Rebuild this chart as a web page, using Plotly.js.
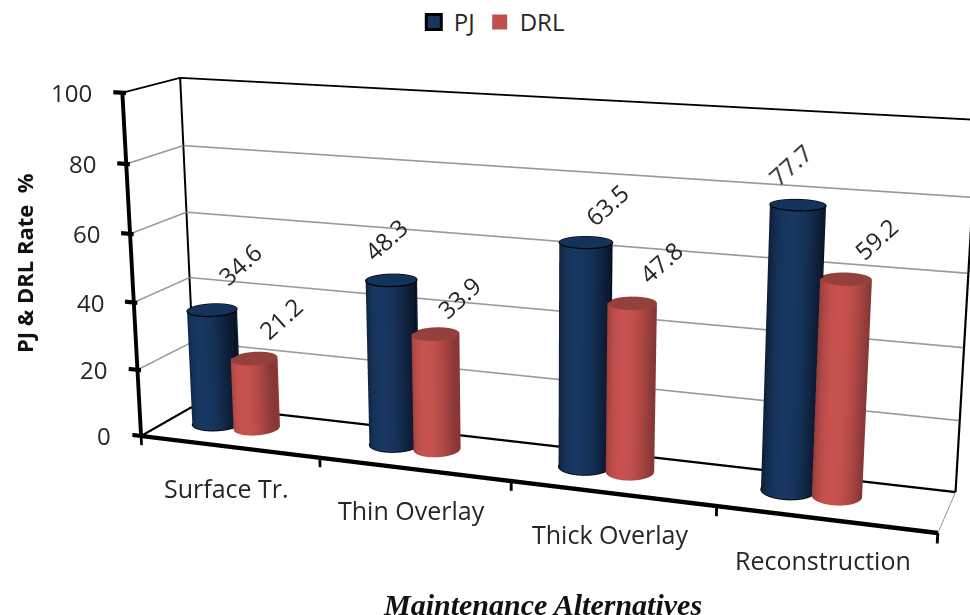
<!DOCTYPE html>
<html><head><meta charset="utf-8">
<script src="https://cdn.plot.ly/plotly-3.0.1.min.js"></script>
<style>html,body{margin:0;background:#fff}</style></head><body><div id="c" style="width:970px;height:615px"></div>
<script>
const categories=["Surface Tr.","Thin Overlay","Thick Overlay","Reconstruction"];
const pj=[34.6,48.3,63.5,77.7];
const drl=[21.2,33.9,47.8,59.2];
const zTicks=[0,20,40,60,80,100];
const pjLabelShift=[[27,46],[-6,41],[21,38],[-8,41]];
const drlLabelShift=[[26,40],[23,37],[28,41],[30,41]];

// Oblique chart box -> scene coordinates (cat: 0..4, depth: 0..1, val: 0..100)
const SHEAR={k:-.3518,m:-1.2373,n:18.2829};
function place(cat,depth,val){const a=cat/4,c=val/100;return [a+SHEAR.k*depth+SHEAR.m*c, depth+SHEAR.n*a, val];}
const XR=[-2,3],YR=[-20,21],ZR=[-20,120];
const AR={x:2.5*(XR[1]-XR[0]),y:.7757*(YR[1]-YR[0]),z:5.6805*(ZR[1]-ZR[0])/100};
const DEPTH=.57;

function polyline(segs,color,width){const x=[],y=[],z=[];
  segs.forEach(s=>{s.forEach(p=>{const q=place(...p);x.push(q[0]);y.push(q[1]);z.push(q[2]);});x.push(null);y.push(null);z.push(null);});
  return {type:'scatter3d',mode:'lines',x,y,z,line:{color,width},hoverinfo:'skip',showlegend:false};}
// GL lines stay thin: stack slightly offset copies for the heavier strokes
function heavy(segs,color,width,dc,dv,n){for(let o=-(n-1)/2;o<=(n-1)/2;o++){traces.push(polyline(segs.map(s=>s.map(p=>[p[0]+o*dc,p[1],p[2]+o*dv])),color,width));}}
function mix(a,b,t){return 'rgb('+a.map((v,i)=>Math.round(v+(b[i]-v)*t)).join(',')+')';}
function cylinder(cat,val,rx,ry,dark,light,capColor){
  const n=48,x=[],y=[],z=[],c=[],I=[],J=[],K=[];
  for(let i=0;i<n;i++){const t=i/n*2*Math.PI;
    const s=1-Math.pow(Math.abs(Math.cos(t)),2.2);
    [0,val].forEach(h=>{const q=place(cat+rx*Math.cos(t),DEPTH+ry*Math.sin(t),h);x.push(q[0]);y.push(q[1]);z.push(q[2]);c.push(mix(dark,light,s));});}
  for(let i=0;i<n;i++){const a=2*i,b=a+1,d=(a+2)%(2*n),e=(a+3)%(2*n);I.push(a,b);J.push(d,d);K.push(b,e);}
  const side={type:'mesh3d',x,y,z,i:I,j:J,k:K,vertexcolor:c,lighting:{ambient:1,diffuse:0,specular:0,fresnel:0,roughness:1},hoverinfo:'skip',showlegend:false,flatshading:true};
  const cx=[],cy=[],cz=[],ci=[],cj=[],ck=[];
  for(let i=0;i<n;i++){const t=i/n*2*Math.PI;const q=place(cat+rx*Math.cos(t),DEPTH+ry*Math.sin(t),val);cx.push(q[0]);cy.push(q[1]);cz.push(q[2]);}
  const q0=place(cat,DEPTH,val);cx.push(q0[0]);cy.push(q0[1]);cz.push(q0[2]);
  for(let i=0;i<n;i++){ci.push(i);cj.push((i+1)%n);ck.push(n);}
  const cap={type:'mesh3d',x:cx,y:cy,z:cz,i:ci,j:cj,k:ck,color:capColor,lighting:{ambient:1,diffuse:0,specular:0,fresnel:0},hoverinfo:'skip',showlegend:false};
  return [side,cap];}
function ring(cat,val,rx,ry,color,width){const s=[];for(let i=0;i<=48;i++){const t=i/48*2*Math.PI;s.push([cat+rx*Math.cos(t),DEPTH+ry*Math.sin(t),val]);}return polyline([s],color,width);}

const traces=[];
heavy(zTicks.filter(v=>v>0&&v<100).map(v=>[[0,0,v],[0,1,v],[4,1,v]]),'#9a9a9a',2,0,.18,2);
heavy([[[0,0,100],[0,1,100],[4,1,100]]],'#000',2.6,0,.14,2);
heavy([[[4,1,100],[4,1,0]],[[0,1,0],[0,1,100]]],'#000',2.6,.004,0,2);
heavy([[[0,0,0],[0,1,0],[4,1,0]]],'#000',3.2,0,.2,2);
traces.push(polyline([[[4,0,0],[4,1,0]]],'#888',1.6));
heavy([[[0,0,0],[4,0,0]]],'#000',4.6,0,.3,3);
heavy([[[0,0,100],[0,0,0]]],'#000',4.6,.0045,0,3);
heavy(zTicks.map(v=>[[-.05,0,v],[0.02,0,v]]),'#000',5,0,.25,3);
heavy([0,1,2,3,4].map(v=>[[v,0,0],[v,0,-2.8]]),'#000',4,.004,0,2);
const BLUE=[[10,24,44],[24,56,98]],RED=[[135,56,54],[200,82,79]];
categories.forEach((c,i)=>{
  const bx=i+.26,rx=.125,ry=.23;
  cylinder(bx,pj[i],rx,ry,BLUE[0],BLUE[1],'#14325a').forEach(t=>traces.push(t));
  traces.push(ring(bx,pj[i],rx,ry,'#000',2.4));
  traces.push(ring(bx,0,rx,ry,'#000',2.4));
  traces.push(polyline([[[bx-rx,DEPTH,0],[bx-rx,DEPTH,pj[i]]],[[bx+rx,DEPTH,0],[bx+rx,DEPTH,pj[i]]]],'#000',1.6));
  cylinder(i+.49,drl[i],.115,ry,RED[0],RED[1],'#96403e').forEach(t=>traces.push(t));
});
traces.push({type:'scatter3d',mode:'markers',name:'PJ',x:[null],y:[null],z:[null],marker:{symbol:'square',size:15,color:'#17375e',line:{color:'#000',width:3}},showlegend:true,hoverinfo:'skip'});
traces.push({type:'scatter3d',mode:'markers',name:'DRL',x:[null],y:[null],z:[null],marker:{symbol:'square',size:15,color:'#c0504d'},showlegend:true,hoverinfo:'skip'});

const FONT='Open Sans';const TXT='#262626';
const ann=[];
function addAnn(p,text,opt){const q=place(...p);ann.push(Object.assign({x:q[0],y:q[1],z:q[2],text,showarrow:false},opt));}
zTicks.forEach(v=>addAnn([0,0,v],String(v),{xanchor:'right',yanchor:'middle',xshift:-28,font:{family:FONT,size:24,color:TXT}}));
categories.forEach((c,i)=>addAnn([i+.5,0,0],c,{xshift:-2,yshift:-41,font:{family:FONT,size:25,color:TXT}}));
categories.forEach((c,i)=>{
  addAnn([i+.26,DEPTH,pj[i]],pj[i].toFixed(1),{textangle:-42,xshift:pjLabelShift[i][0],yshift:pjLabelShift[i][1],font:{family:FONT,size:24,color:TXT}});
  addAnn([i+.49,DEPTH,drl[i]],drl[i].toFixed(1),{textangle:-42,xshift:drlLabelShift[i][0],yshift:drlLabelShift[i][1],font:{family:FONT,size:24,color:TXT}});
});
const hid={showgrid:false,zeroline:false,showline:false,showticklabels:false,ticks:'',showspikes:false,showbackground:false,title:{text:''},autorange:false};
Plotly.newPlot('c',traces,{width:970,height:615,showlegend:true,paper_bgcolor:'#fff',
 legend:{orientation:'h',x:.507,xanchor:'center',y:1,yanchor:'top',font:{family:FONT,size:24,color:TXT}},
 margin:{l:0,r:0,t:0,b:0},hovermode:false,
 annotations:[
  {xref:'paper',yref:'paper',x:24/970,y:1-263/615,xanchor:'center',yanchor:'middle',text:'<b>PJ &amp; DRL Rate &nbsp;%</b>',textangle:-90,showarrow:false,font:{family:FONT,size:22,color:'#111'}},
  {xref:'paper',yref:'paper',x:542/970,y:1-604/615,xanchor:'center',yanchor:'middle',text:'<b><i>Maintenance Alternatives</i></b>',showarrow:false,font:{family:'Liberation Serif',size:30,color:'#111'}}],
 scene:{domain:{x:[0,1],y:[0,1]},aspectmode:'manual',aspectratio:AR,
  camera:{eye:{x:9.2744,y:6.0992,z:7.2854},center:{x:-2.3532,y:6.2649,z:-.656},up:{x:0,y:.0023,z:1},projection:{type:'perspective'}},
  xaxis:Object.assign({range:XR},hid),yaxis:Object.assign({range:YR},hid),zaxis:Object.assign({range:ZR},hid),
  annotations:ann}
},{displayModeBar:false});
</script></body></html>
